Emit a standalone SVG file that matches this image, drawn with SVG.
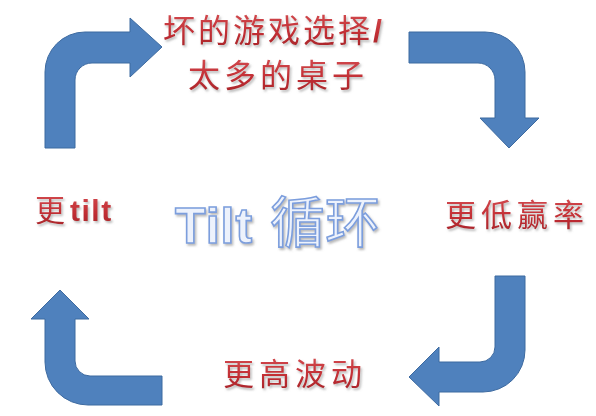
<svg xmlns="http://www.w3.org/2000/svg" width="596" height="416" viewBox="0 0 596 416">
<defs>
<filter id="sh" x="-10%" y="-20%" width="130%" height="150%">
<feDropShadow dx="1.5" dy="2" stdDeviation="1" flood-color="#808080" flood-opacity="0.55"/>
</filter>
<linearGradient id="red" x1="0" y1="0" x2="0" y2="1">
<stop offset="0" stop-color="#d85558"/>
<stop offset="0.6" stop-color="#c22e34"/>
<stop offset="1" stop-color="#a22428"/>
</linearGradient>
</defs>
<style>
.lbl{font-family:"Noto Sans CJK SC","Liberation Sans",sans-serif;fill:url(#red);filter:url(#sh);}
.arrow{fill:#4f81bd;stroke:#3d6aa0;stroke-width:1;}
.center{fill:#edf2fc;stroke:#7c9edd;stroke-width:1.6;filter:url(#sh);}
</style>
<rect width="596" height="416" fill="#ffffff"/>
<g id="connectors">
<path class="arrow" d="M45,148 L45,72 A40,40 0 0 1 85,32 L130,32 L130,18 L162,47 L130,77 L130,63 L92,63 A17,17 0 0 0 75,80 L75,148 Z"/>
<path class="arrow" d="M409,32 L485,32 A40,40 0 0 1 525,72 L525,118 L539,118 L509,148 L480,118 L495,118 L495,80 A17,17 0 0 0 478,63 L409,63 Z"/>
<path class="arrow" d="M495,276 L525,276 L525,350 A42,42 0 0 1 483,392 L439,392 L439,406 L409,377 L439,347 L439,362 L480,362 A15,15 0 0 0 495,347 Z"/>
<path class="arrow" d="M162,376 L90,376 A15,15 0 0 1 75,361 L75,319 L89,319 L60,290 L31,319 L45,319 L45,362 A43,43 0 0 0 88,405 L162,405 Z"/>
</g>
<g id="node-bad-games">
<text class="lbl" x="163" y="42" font-size="32" letter-spacing="3">坏的游戏选择<tspan font-family="Liberation Sans" font-weight="bold" font-size="32">/</tspan></text>
<text class="lbl" x="188" y="87" font-size="32" letter-spacing="4">太多的桌子</text>
</g>
<g id="node-lower-winrate">
<text class="lbl" x="445" y="226" font-size="31" letter-spacing="5">更低赢率</text>
</g>
<g id="node-higher-variance">
<text class="lbl" x="223" y="385" font-size="31" letter-spacing="5">更高波动</text>
</g>
<g id="node-more-tilt">
<text class="lbl" x="35" y="221" font-size="30">更<tspan x="70" font-family="Liberation Sans" font-weight="bold" letter-spacing="1.5">tilt</tspan></text>
</g>
<g id="node-center">
<text class="center" x="175" y="243" font-family="Liberation Sans, sans-serif" font-weight="bold" font-size="50" letter-spacing="1">Tilt<tspan x="270" y="242" font-family="Noto Sans CJK SC, sans-serif" font-weight="normal" font-size="55" letter-spacing="0">循环</tspan></text>
</g>
</svg>
